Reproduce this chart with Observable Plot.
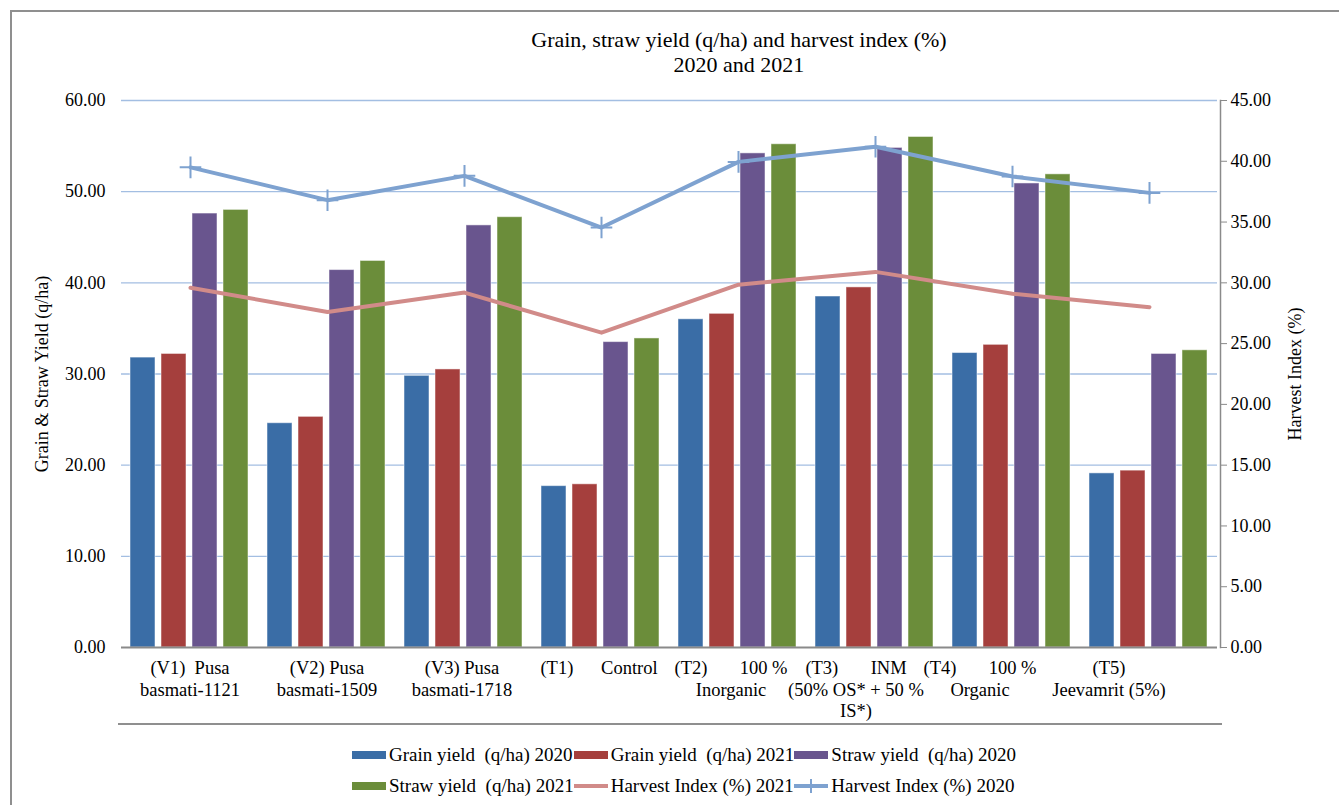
<!DOCTYPE html>
<html><head><meta charset="utf-8">
<script src="https://cdn.jsdelivr.net/npm/d3@7"></script>
<script src="https://cdn.jsdelivr.net/npm/@observablehq/plot@0.6"></script>
<style>
body{margin:0;background:#fff;font-family:"Liberation Serif","Times New Roman",serif;color:#000}
#wrap{position:relative;width:1339px;height:805px;overflow:hidden;background:#fff}
#border{position:absolute;left:10px;top:10px;width:1360px;height:820px;border:2px solid #8f8f8f;box-sizing:border-box}
#title{position:absolute;top:27px;left:0;width:1478px;text-align:center;font-size:22px;line-height:25px}
.layer{position:absolute;left:0;top:0}
#sep{position:absolute;left:118px;top:723px;width:1104px;height:2px;background:#8f8f8f}
#legend{position:absolute;top:743px;left:0;width:1368px;display:flex;justify-content:center}
#legend .grid{display:grid;grid-template-columns:auto auto auto;row-gap:7px;font-size:19px;line-height:24px}
#legend .item{display:flex;align-items:center;white-space:pre}
#legend svg{margin-right:3px}
</style></head>
<body>
<div id="wrap">
  <div id="border"></div>
  <div id="title">Grain, straw yield (q/ha) and harvest index (%)<br>2020 and 2021</div>
  <div id="bars" class="layer"></div>
  <div id="lines" class="layer"></div>
  <div id="sep"></div>
  <div id="legend"><div class="grid"></div></div>
</div>
<script>
// ---- data ----
const categories = ["V1", "V2", "V3", "T1", "T2", "T3", "T4", "T5"];
const categoryLabels = [
  "(V1)\u00a0\u00a0Pusa\nbasmati-1121",
  "(V2) Pusa\nbasmati-1509",
  "(V3) Pusa\nbasmati-1718",
  "(T1)\u00a0\u00a0\u00a0\u00a0\u00a0\u00a0Control",
  "(T2)\u00a0\u00a0\u00a0\u00a0\u00a0\u00a0\u00a0100 %\nInorganic",
  "(T3)\u00a0\u00a0\u00a0\u00a0\u00a0\u00a0\u00a0INM\n(50% OS* + 50 %\nIS*)",
  "(T4)\u00a0\u00a0\u00a0\u00a0\u00a0\u00a0\u00a0100 %\nOrganic",
  "(T5)\nJeevamrit (5%)"
];
const seriesNames = ["Grain yield  (q/ha) 2020", "Grain yield  (q/ha) 2021", "Straw yield  (q/ha) 2020", "Straw yield  (q/ha) 2021"];
const grain2020 = [31.8, 24.6, 29.8, 17.7, 36.0, 38.5, 32.3, 19.1];
const grain2021 = [32.2, 25.3, 30.5, 17.9, 36.6, 39.5, 33.2, 19.4];
const straw2020 = [47.6, 41.4, 46.3, 33.5, 54.2, 54.8, 50.9, 32.2];
const straw2021 = [48.0, 42.4, 47.2, 33.9, 55.2, 56.0, 51.9, 32.6];
const harvestIndex2021 = [29.6, 27.6, 29.2, 25.9, 29.85, 30.9, 29.1, 28.0];
const harvestIndex2020 = [39.5, 36.8, 38.8, 34.55, 39.95, 41.2, 38.75, 37.4];
const lineNames = ["Harvest Index (%) 2021", "Harvest Index (%) 2020"];
const leftTicks = [0, 10, 20, 30, 40, 50, 60];
const rightTicks = [0, 5, 10, 15, 20, 25, 30, 35, 40, 45];

// ---- styles ----
const barColors = ["#3A6DA6", "#A53F3D", "#69558E", "#6B8D3A"];
const hi21Color = "#D18B89";
const hi20Color = "#7EA2D0";
const gridColor = "#A3BEE2";
const axisColor = "#8a8a8a";
const font = "'Liberation Serif','Times New Roman',serif";
const labelShift = [0, 0, -2, -2, -7, -19, -32, -40]; // horizontal nudge of each category label (px)

const W = 1339, H = 740, mL = 118, mR = 119, mT = 100, mB = 93;

const seriesValues = [grain2020, grain2021, straw2020, straw2021];
const bars = categories.flatMap((c, i) => seriesNames.map((s, j) => ({cat: c, series: s, value: seriesValues[j][i]})));
const labelData = categories.map((c, i) => ({cat: c, label: categoryLabels[i]}));

const barPlot = Plot.plot({
  width: W, height: H, marginLeft: mL, marginRight: mR, marginTop: mT, marginBottom: mB,
  style: {fontFamily: font, fontSize: "18px", background: "transparent", color: "#000", overflow: "visible"},
  fx: {domain: categories, padding: 0, axis: null},
  x: {domain: seriesNames, paddingInner: 0.19, paddingOuter: 0.3, axis: null},
  y: {domain: [0, 60], axis: null},
  color: {domain: seriesNames, range: barColors},
  marks: [
    Plot.ruleY(leftTicks.filter(d => d > 0), {stroke: gridColor, strokeWidth: 1.3}),
    Plot.axisY({ticks: leftTicks, tickFormat: d => d.toFixed(2), tickSize: 0, tickPadding: 16, fontSize: 18,
      label: "Grain & Straw Yield (q/ha)", labelAnchor: "center", labelArrow: "none", labelOffset: 86, fill: "#000"}),
    Plot.barY(bars, {fx: "cat", x: "series", y: "value", fill: "series", stroke: "#ffffff", strokeOpacity: 0.5, strokeWidth: 1}),
    Plot.ruleY([0], {stroke: axisColor, strokeWidth: 2}),
    ...labelData.map((d, i) => Plot.text([d], {fx: "cat", text: "label", frameAnchor: "bottom", lineAnchor: "top",
      dy: 12, dx: labelShift[i], lineHeight: 1.14, fontSize: 18.5, fill: "#000"}))
  ]
});
document.getElementById("bars").appendChild(barPlot);

const hi21 = categories.map((c, i) => ({cat: c, v: harvestIndex2021[i]}));
const hi20 = categories.map((c, i) => ({cat: c, v: harvestIndex2020[i]}));

const linePlot = Plot.plot({
  width: W, height: H, marginLeft: mL, marginRight: mR, marginTop: mT, marginBottom: mB,
  style: {fontFamily: font, fontSize: "18px", background: "transparent", color: "#000", overflow: "visible"},
  x: {type: "point", domain: categories, padding: 0.5, axis: null},
  y: {domain: [0, 45], axis: null},
  marks: [
    Plot.frame({anchor: "right", stroke: axisColor, strokeWidth: 1.5}),
    Plot.axisY({anchor: "right", ticks: rightTicks, tickFormat: d => d.toFixed(2), tickSize: 6, tickPadding: 4, fontSize: 18,
      stroke: axisColor, fill: "#000", label: "Harvest Index (%)", labelAnchor: "center", labelArrow: "none", labelOffset: 80}),
    Plot.lineY(hi21, {x: "cat", y: "v", stroke: hi21Color, strokeWidth: 4}),
    Plot.lineY(hi20, {x: "cat", y: "v", stroke: hi20Color, strokeWidth: 4}),
    Plot.dot(hi20, {x: "cat", y: "v", symbol: "plus", r: 7, stroke: hi20Color, strokeWidth: 2})
  ]
});
document.getElementById("lines").appendChild(linePlot);

// ---- legend ----
const grid = document.querySelector("#legend .grid");
const legendItems = [
  {type: "bar", color: barColors[0], name: seriesNames[0]},
  {type: "bar", color: barColors[1], name: seriesNames[1]},
  {type: "bar", color: barColors[2], name: seriesNames[2]},
  {type: "bar", color: barColors[3], name: seriesNames[3]},
  {type: "line", color: hi21Color, name: lineNames[0]},
  {type: "plus", color: hi20Color, name: lineNames[1]}
];
for (const it of legendItems) {
  const d = document.createElement("div");
  d.className = "item";
  let sw;
  if (it.type === "bar") sw = `<svg width="34" height="10"><rect x="0" y="1" width="34" height="8" fill="${it.color}"/></svg>`;
  else if (it.type === "line") sw = `<svg width="34" height="10"><line x1="0" x2="34" y1="5" y2="5" stroke="${it.color}" stroke-width="4"/></svg>`;
  else sw = `<svg width="34" height="14"><line x1="0" x2="34" y1="7" y2="7" stroke="${it.color}" stroke-width="4"/><line x1="17" x2="17" y1="0" y2="14" stroke="${it.color}" stroke-width="2"/></svg>`;
  d.innerHTML = sw + `<span>${it.name}</span>`;
  grid.appendChild(d);
}
</script>
</body></html>
